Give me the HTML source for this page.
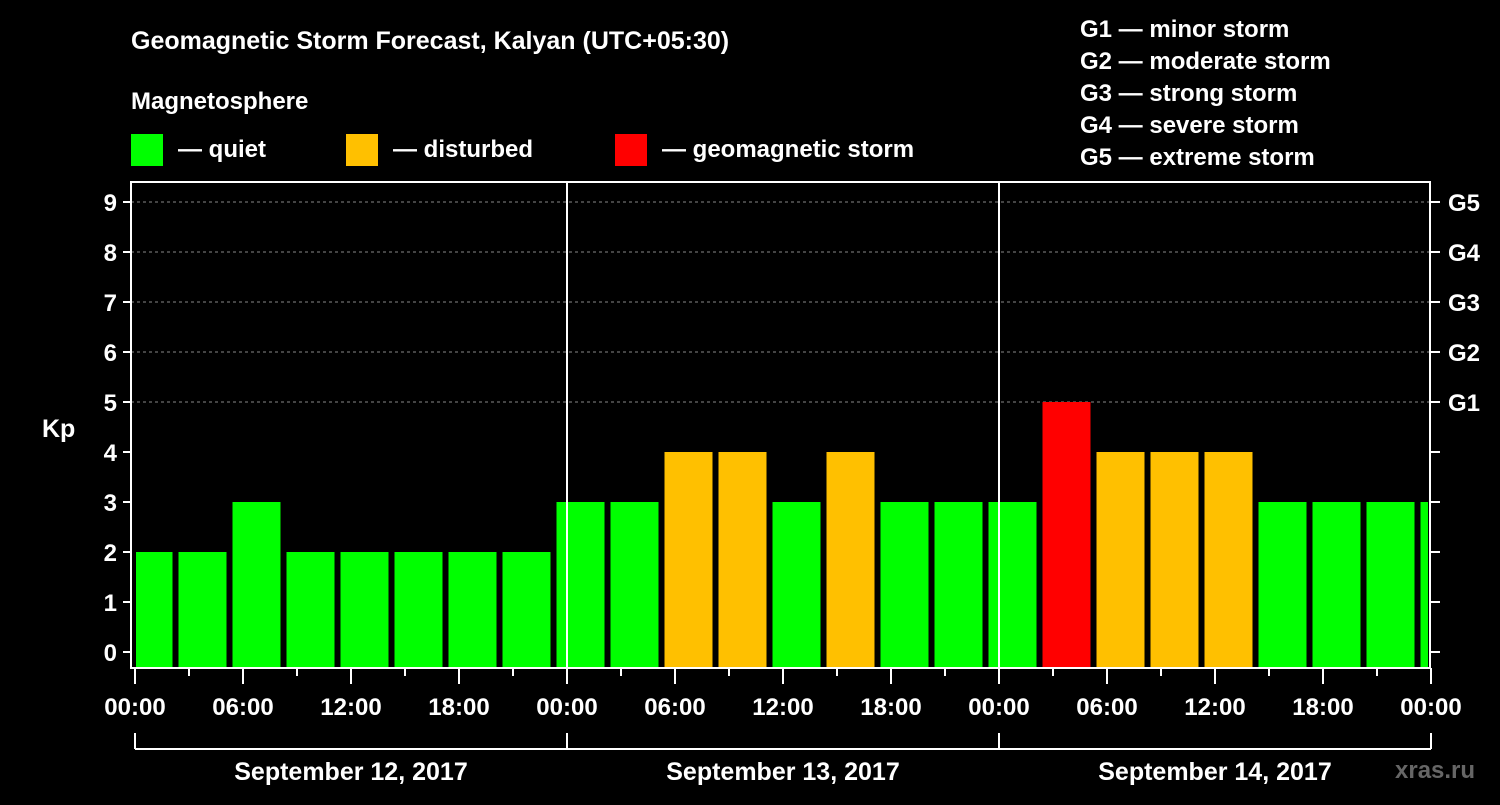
<!DOCTYPE html>
<html><head><meta charset="utf-8"><style>
body{margin:0;background:#000;width:1500px;height:800px;overflow:hidden}
svg text{font-family:"Liberation Sans",sans-serif;font-weight:bold;fill:#fff}
</style></head><body>
<svg id="c" width="1500" height="800" xmlns="http://www.w3.org/2000/svg">
<text x="131" y="49" font-size="25">Geomagnetic Storm Forecast, Kalyan (UTC+05:30)</text>
<text x="131" y="109" font-size="24">Magnetosphere</text>
<g><rect x="131" y="134" width="32" height="32" fill="#00ff00"/><text x="178" y="157" font-size="24">— quiet</text></g>
<g><rect x="346" y="134" width="32" height="32" fill="#ffc000"/><text x="393" y="157" font-size="24">— disturbed</text></g>
<g><rect x="615" y="134" width="32" height="32" fill="#ff0000"/><text x="662" y="157" font-size="24">— geomagnetic storm</text></g>
<g font-size="24">
<text x="1080" y="37">G1 — minor storm</text><text x="1080" y="69">G2 — moderate storm</text><text x="1080" y="101">G3 — strong storm</text><text x="1080" y="133">G4 — severe storm</text><text x="1080" y="165">G5 — extreme storm</text></g>
<text x="42" y="437" font-size="25">Kp</text>
<g id="plot"></g>
<text x="1395" y="778" font-size="24" fill="#666" style="fill:#666">xras.ru</text>
</svg>
<script>
const kpValues=[2,2,3,2,2,2,2,2,3,3,4,4,3,4,3,3,3,5,4,4,4,3,3,3,3];
const firstBinStartHour=-0.75;
const yTicks=[0,1,2,3,4,5,6,7,8,9];
const gLabels=["G1","G2","G3","G4","G5"];
const gLevels=[5,6,7,8,9];
const xTickLabels=["00:00","06:00","12:00","18:00"];
const dayLabels=["September 12, 2017","September 13, 2017","September 14, 2017"];
const NS="http://www.w3.org/2000/svg";
const L=131,R=1430,T=182,B=668;
const x=h=>135+h*18, y=v=>652-v*50;
const g=document.getElementById('plot');
function mk(t,a,p){const e=document.createElementNS(NS,t);for(const k in a)e.setAttribute(k,a[k]);(p||g).appendChild(e);return e;}
yTicks.forEach(v=>{
 if(v>0&&v>=5){const l=mk('line',{x1:L,x2:R,y1:y(v),y2:y(v),stroke:'#888','stroke-dasharray':'3,3'});}
 const t=mk('line',{x1:L-8,x2:L,y1:y(v),y2:y(v),stroke:'#fff','stroke-width':2});
 const t2=mk('line',{x1:R,x2:R+10,y1:y(v),y2:y(v),stroke:'#fff','stroke-width':2});
 const tx=mk('text',{x:L-14,y:y(v)+9,'font-size':24,'text-anchor':'end'});tx.textContent=v;
});
gLevels.forEach((v,i)=>{const tx=mk('text',{x:1448,y:y(v)+9,'font-size':24});tx.textContent=gLabels[i];});
kpValues.forEach((v,i)=>{
 let s=x(firstBinStartHour+3*i)+3,e=x(firstBinStartHour+3*i+3)-3;
 s=Math.max(s,136);e=Math.min(e,1428);
 const col=v>=5?'#ff0000':v>=4?'#ffc000':'#00ff00';
 const r=mk('rect',{x:s,y:y(v),width:e-s,height:B-y(v),fill:col});
 
});
[1,2].forEach(d=>{const l=mk('line',{x1:x(24*d),x2:x(24*d),y1:T,y2:B,stroke:'#fff','stroke-width':2});});
const fr=mk('rect',{x:L,y:T,width:R-L,height:B-T,fill:'none',stroke:'#fff','stroke-width':2});

for(let h=0;h<=72;h+=3){
 const tk=mk('line',{x1:x(h),x2:x(h),y1:B,y2:B+(h%6?8:16),stroke:'#fff','stroke-width':2});
 if(h%6==0){const tx=mk('text',{x:x(h),y:715,'font-size':24,'text-anchor':'middle'});tx.textContent=xTickLabels[(h/6)%4];}
}
const br=mk('line',{x1:x(0),x2:x(72),y1:749,y2:749,stroke:'#fff','stroke-width':2});
[0,1,2,3].forEach(d=>{const l=mk('line',{x1:x(24*d),x2:x(24*d),y1:733,y2:749,stroke:'#fff','stroke-width':2});});
dayLabels.forEach((s,i)=>{const tx=mk('text',{x:x(24*i+12),y:780,'font-size':25,'text-anchor':'middle'});tx.textContent=s;});
</script>
</body></html>
